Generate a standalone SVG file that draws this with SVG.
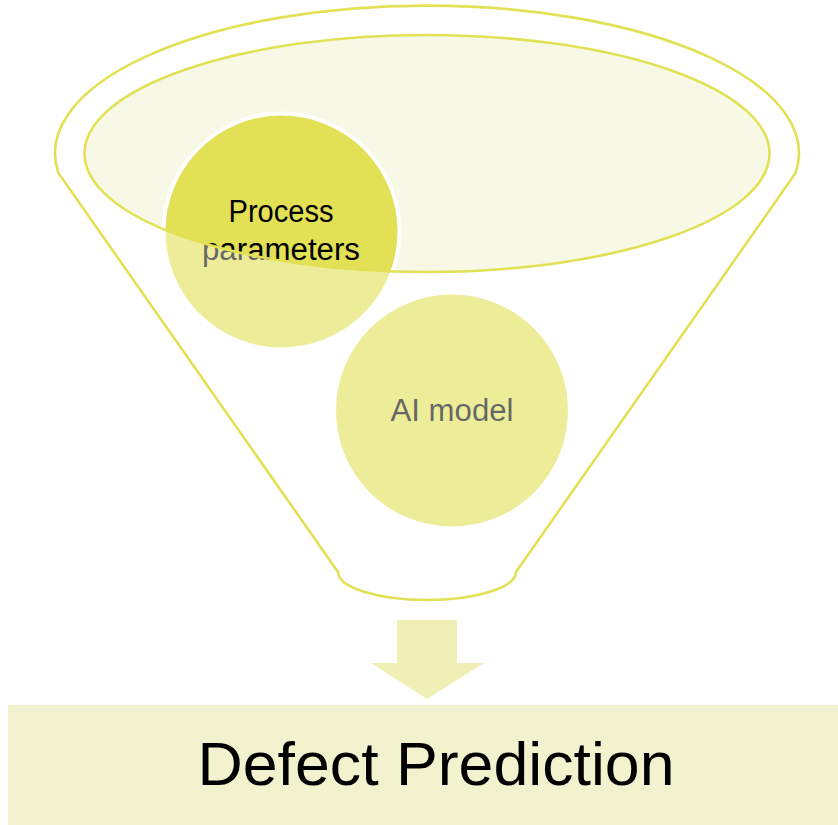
<svg xmlns="http://www.w3.org/2000/svg" width="838" height="825" viewBox="0 0 838 825">
  <style>
    .outline { fill: none; stroke: #E2E155; stroke-width: 2.6; }
    .bubble { stroke: #FFFFFF; stroke-width: 4; }
    .label { font-family: "Liberation Sans", Arial, sans-serif; font-size: 31px; fill: #000000; text-anchor: middle; }
    .title { font-family: "Liberation Sans", Arial, sans-serif; font-size: 61.5px; fill: #000000; text-anchor: middle; }
  </style>

  <rect x="0" y="0" width="838" height="825" fill="#FFFFFF"/>

  <!-- funnel mouth (inner opening) -->
  <g id="funnel-mouth">
    <ellipse cx="427" cy="153.5" rx="342.5" ry="118.5" fill="#F7F9E6"/>
  </g>

  <!-- items falling into the funnel -->
  <g id="node-process-parameters">
    <circle class="bubble" cx="281.5" cy="231.5" r="118" fill="#E2E155"/>
    <text class="label" x="281" y="222" textLength="105" lengthAdjust="spacingAndGlyphs">Process</text>
    <text class="label" x="281" y="260" textLength="158" lengthAdjust="spacingAndGlyphs">parameters</text>
  </g>

  <g id="node-ai-model">
    <circle class="bubble" cx="452" cy="410.5" r="118" fill="#E2E155"/>
    <text class="label" x="452" y="421" textLength="123" lengthAdjust="spacingAndGlyphs">AI model</text>
  </g>

  <!-- translucent funnel body, open where the mouth is -->
  <g id="funnel-body">
    <path fill="#FFFFFF" fill-opacity="0.4" fill-rule="evenodd"
          d="M 58.4,173 A 372 147.5 0 1 1 795.6,173 L 516,572 A 89 28 0 0 1 338,572 Z
             M 84.5,153.5 A 342.5 118.5 0 1 0 769.5,153.5 A 342.5 118.5 0 1 0 84.5,153.5 Z"/>
    <path class="outline" d="M 58.4,173 A 372 147.5 0 1 1 795.6,173 L 516,572 A 89 28 0 0 1 338,572 Z"/>
    <ellipse class="outline" cx="427" cy="153.5" rx="342.5" ry="118.5"/>
  </g>

  <!-- flow from funnel to result -->
  <g id="connectors">
    <polygon fill="#F0EFB6" points="397,620 457,620 457,663 484,663 427,699 371,663 397,663"/>
  </g>

  <g id="node-defect-prediction">
    <rect x="8" y="705" width="830" height="120" fill="#F2F2CE"/>
    <text class="title" x="436" y="785" textLength="477" lengthAdjust="spacingAndGlyphs">Defect Prediction</text>
  </g>
</svg>
